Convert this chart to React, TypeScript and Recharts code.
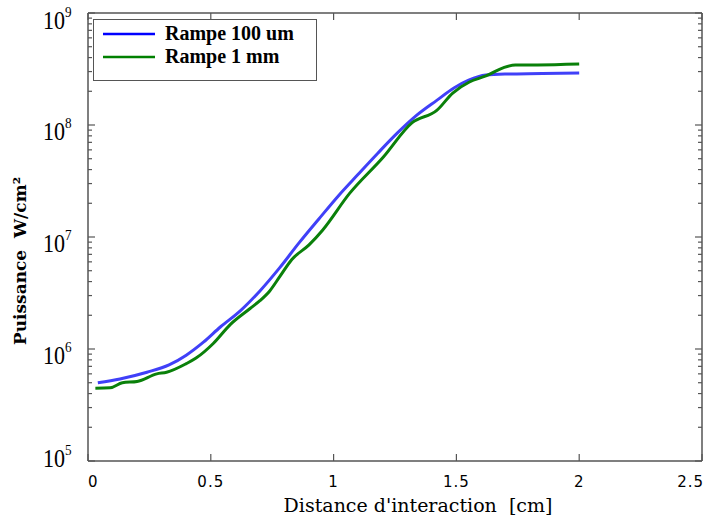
import { LineChart, Line, XAxis, YAxis, Legend } from 'recharts';

// Rampe 100 um (blue)
const rampe100X = [0.04, 0.13, 0.24, 0.33, 0.4, 0.47, 0.54, 0.62, 0.7, 0.78, 0.86, 0.94, 1.02, 1.1, 1.18, 1.26, 1.34, 1.42, 1.49, 1.55, 1.62, 1.7, 1.85, 2.0];
const rampe100Y = [5.0e5, 5.4e5, 6.2e5, 7.2e5, 8.8e5, 1.15e6, 1.58e6, 2.19e6, 3.3e6, 5.3e6, 8.9e6, 1.45e7, 2.34e7, 3.63e7, 5.6e7, 8.5e7, 1.23e8, 1.66e8, 2.14e8, 2.51e8, 2.79e8, 2.85e8, 2.88e8, 2.92e8];

// Rampe 1 mm (green)
const rampe1mmX = [0.03, 0.09, 0.14, 0.2, 0.28, 0.32, 0.4, 0.44, 0.51, 0.58, 0.66, 0.7, 0.74, 0.78, 0.83, 0.9, 0.955, 1.065, 1.2, 1.32, 1.42, 1.485, 1.553, 1.62, 1.69, 1.74, 1.83, 2.0];
const rampe1mmY = [4.47e5, 4.5e5, 5.0e5, 5.13e5, 6.0e5, 6.2e5, 7.4e5, 8.3e5, 1.12e6, 1.66e6, 2.3e6, 2.7e6, 3.3e6, 4.4e6, 6.3e6, 8.5e6, 1.15e7, 2.45e7, 5.1e7, 1.05e8, 1.35e8, 1.93e8, 2.42e8, 2.74e8, 3.24e8, 3.44e8, 3.44e8, 3.5e8];

const seriesNames = ['Rampe 100 um', 'Rampe 1 mm'];
const legendColors = ['#0000ff', '#008000'];

const xTicks = [0, 0.5, 1, 1.5, 2, 2.5];
const yMajor = [1e5, 1e6, 1e7, 1e8, 1e9];
const yMinorFactors = [2, 3, 4, 5, 6, 7, 8, 9];
const yTicks = [...yMajor, ...yMajor.slice(0, -1).flatMap((m) => yMinorFactors.map((f) => m * f))];

const blueData = rampe100X.map((x, i) => ({ x, y: rampe100Y[i] }));
const greenData = rampe1mmX.map((x, i) => ({ x, y: rampe1mmY[i] }));

const FRAME = '#555';

const LeftTick = ({ x, y, payload }: any) => {
  const v = payload.value;
  const major = yMajor.includes(v);
  const exp = Math.round(Math.log10(v));
  const dy = v === 1e9 ? 16 : v === 1e5 ? 6 : 15;
  return (
    <g>
      <line x1={x} x2={x + (major ? 7 : 4)} y1={y} y2={y} stroke={FRAME} strokeWidth={1.2} />
      {major && (
        <text transform={`translate(${x - 45},${y + dy}) scale(0.88,1)`} fontFamily="Liberation Serif" fontSize={25} fill="#000">
          10
          <tspan dy={-12} fontSize={15}>{exp}</tspan>
        </text>
      )}
    </g>
  );
};

const RightTick = ({ x, y, payload }: any) => {
  const major = yMajor.includes(payload.value);
  return <line x1={x} x2={x - (major ? 7 : 4)} y1={y} y2={y} stroke={FRAME} strokeWidth={1.2} />;
};

const BottomTick = ({ x, y, payload, index }: any) => {
  const v = payload.value;
  const anchor = index === 0 ? 'start' : v === 2.5 ? 'end' : 'middle';
  return (
    <g>
      <line x1={x} x2={x} y1={y} y2={y - 7} stroke={FRAME} strokeWidth={1.2} />
      <text x={v === 2.5 ? x + 2 : x} y={y + 26} textAnchor={anchor} fontFamily="DejaVu Sans" fontSize={15} letterSpacing={1} fill="#000">
        {String(v)}
      </text>
    </g>
  );
};

const TopTick = ({ x, y }: any) => <line x1={x} x2={x} y1={y} y2={y + 7} stroke={FRAME} strokeWidth={1.2} />;

const renderLegend = () => (
  <svg width={225} height={63}>
    <rect x={0.5} y={0.5} width={223} height={61} fill="#fff" stroke={FRAME} strokeWidth={1} />
    {seriesNames.map((name, i) => (
      <g key={name}>
        <line x1={10} x2={62} y1={15 + i * 23} y2={15 + i * 23} stroke={legendColors[i]} strokeWidth={2.5} />
        <text x={72} y={21 + i * 23} fontFamily="Liberation Serif" fontWeight="bold" fontSize={20} fill="#000">
          {name}
        </text>
      </g>
    ))}
  </svg>
);

export default function App() {
  return (
    <div style={{ position: 'absolute', left: 0, top: 0, background: '#fff' }}>
      <LineChart width={708} height={522} margin={{ top: 0, right: 0, left: 0, bottom: 0 }}>
        <XAxis
          xAxisId="b"
          dataKey="x"
          type="number"
          domain={[0, 2.5]}
          ticks={xTicks}
          interval={0}
          height={61}
          tickSize={0}
          tickMargin={0}
          tickLine={false}
          axisLine={{ stroke: FRAME, strokeWidth: 1.5 }}
          tick={<BottomTick />}
          allowDataOverflow
          label={({ viewBox }: any) => (
            <text x={viewBox.x + viewBox.width / 2 + 23} y={viewBox.y + 51} textAnchor="middle" fontFamily="DejaVu Serif" fontSize={19} fill="#000">
              {'Distance d\'interaction\u00a0\u00a0[cm]'}
            </text>
          )}
        />
        <XAxis
          xAxisId="t"
          orientation="top"
          dataKey="x"
          type="number"
          domain={[0, 2.5]}
          ticks={xTicks}
          interval={0}
          height={13}
          tickSize={0}
          tickMargin={0}
          tickLine={false}
          axisLine={{ stroke: FRAME, strokeWidth: 1.5 }}
          tick={<TopTick />}
          allowDataOverflow
        />
        <YAxis
          yAxisId="l"
          type="number"
          scale="log"
          domain={[1e5, 1e9]}
          ticks={yTicks}
          interval={0}
          width={88}
          tickSize={0}
          tickMargin={0}
          tickLine={false}
          axisLine={{ stroke: FRAME, strokeWidth: 1.5 }}
          tick={<LeftTick />}
          allowDataOverflow
          label={({ viewBox }: any) => {
            const cy = viewBox.y + viewBox.height / 2 + 24;
            return (
              <text x={26} y={cy} transform={`rotate(-90, 26, ${cy})`} textAnchor="middle" fontFamily="DejaVu Serif" fontWeight="bold" fontSize={17} fill="#000">
                {'Puissance\u00a0\u00a0W/cm²'}
              </text>
            );
          }}
        />
        <YAxis
          yAxisId="r"
          orientation="right"
          type="number"
          scale="log"
          domain={[1e5, 1e9]}
          ticks={yTicks}
          interval={0}
          width={6}
          tickSize={0}
          tickMargin={0}
          tickLine={false}
          axisLine={{ stroke: FRAME, strokeWidth: 1.5 }}
          tick={<RightTick />}
          allowDataOverflow
        />
        <Legend
          layout="vertical"
          align="center"
          verticalAlign="middle"
          content={renderLegend}
          wrapperStyle={{ position: 'absolute', left: 93, top: 19, width: 225, height: 63 }}
        />
        <Line
          xAxisId="b"
          yAxisId="l"
          data={blueData}
          dataKey="y"
          name={seriesNames[0]}
          type="monotone"
          stroke="#4040f8"
          strokeWidth={3}
          dot={false}
          isAnimationActive={false}
        />
        <Line
          xAxisId="b"
          yAxisId="l"
          data={greenData}
          dataKey="y"
          name={seriesNames[1]}
          type="monotone"
          stroke="#0a800a"
          strokeWidth={3}
          dot={false}
          isAnimationActive={false}
        />
      </LineChart>
    </div>
  );
}
